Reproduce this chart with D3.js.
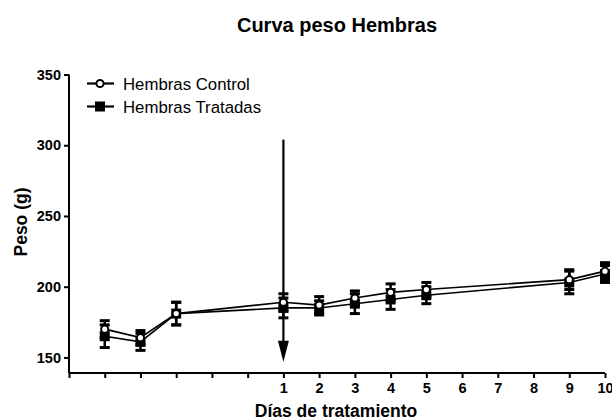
<!DOCTYPE html>
<html>
<head>
<meta charset="utf-8">
<script src="https://cdn.jsdelivr.net/npm/d3@7/dist/d3.min.js"></script>
<style>
  html, body { margin: 0; padding: 0; background: #fff; }
  svg { display: block; font-family: "Liberation Sans", Arial, sans-serif; }
</style>
</head>
<body>
<svg id="chart" width="612" height="419"></svg>
<script>
// Treatment days (negative = days before treatment starts)
const days = [-4, -3, -2, 1, 2, 3, 4, 5, 9, 10];
const controlMean = [170, 164, 181, 189, 187, 192, 196, 198, 205, 211];
const controlErr  = [6, 5, 8, 6, 6, 5, 6, 5, 7, 6];
const treatedMean = [165, 161, 181, 185, 185, 188, 191, 194, 203, 209];
const treatedErr  = [8, 6, 8, 7, 5, 7, 7, 6, 8, 6];
const xTicks = [-5, -4, -3, -2, -1, 0, 1, 2, 3, 4, 5, 6, 7, 8, 9, 10];
const yTicks = [150, 200, 250, 300, 350];
const seriesNames = ["Hembras Control", "Hembras Tratadas"];
// Treatment start marker: arrow on day 1 from this weight down to this weight
const arrowDay = 1, arrowFrom = 304, arrowTo = 147;

const svg = d3.select("#chart");
const x = d3.scaleLinear().domain([-5, 10]).range([69, 605]);
const y = d3.scaleLinear().domain([139, 350]).range([373, 74.5]);

// Axes
const xAxis = d3.axisBottom(x).tickValues(xTicks).tickSize(5).tickPadding(5)
  .tickFormat(d => d >= 1 ? d : "");
const yAxis = d3.axisLeft(y).tickValues(yTicks).tickSize(5).tickPadding(3);

const gx = svg.append("g").attr("transform", `translate(0,${y.range()[0]})`).call(xAxis);
const gy = svg.append("g").attr("transform", `translate(${x.range()[0]},0)`).call(yAxis);
[gx, gy].forEach(g => {
  g.select(".domain").attr("stroke", "#000").attr("stroke-width", 2);
  g.selectAll(".tick line").attr("stroke", "#000").attr("stroke-width", 2);
  g.selectAll(".tick text").attr("fill", "#000").style("font-size", "14.5px")
    .style("font-weight", "bold").style("font-family", "Liberation Sans, Arial, sans-serif");
});
gx.select(".domain").attr("d", `M${x.range()[0]},0H${x.range()[1]}`);
gy.select(".domain").attr("d", `M0,${y.range()[0]}V${y.range()[1]}`);

// Titles
svg.append("text").attr("x", 337).attr("y", 32).attr("text-anchor", "middle")
  .style("font-size", "20px").style("font-weight", "bold").text("Curva peso Hembras");
svg.append("text").attr("transform", "translate(27,222) rotate(-90)")
  .attr("text-anchor", "middle").style("font-size", "17.5px").style("font-weight", "bold")
  .text("Peso (g)");
svg.append("text").attr("x", 336).attr("y", 417).attr("text-anchor", "middle")
  .style("font-size", "17.5px").style("font-weight", "bold").text("Días de tratamiento");

// Treatment arrow
svg.append("line").attr("x1", x(arrowDay)).attr("x2", x(arrowDay))
  .attr("y1", y(arrowFrom)).attr("y2", y(arrowTo) - 18)
  .attr("stroke", "#000").attr("stroke-width", 2.2);
svg.append("path")
  .attr("d", `M${x(arrowDay) - 5.5},${y(arrowTo) - 21}L${x(arrowDay) + 5.5},${y(arrowTo) - 21}L${x(arrowDay)},${y(arrowTo)}Z`)
  .attr("fill", "#000");

const series = [
  { name: seriesNames[0], mean: controlMean, err: controlErr, marker: "circle" },
  { name: seriesNames[1], mean: treatedMean, err: treatedErr, marker: "square" }
];

const line = d3.line().x(d => x(d.day)).y(d => y(d.v));

// Error bars
series.forEach(s => {
  const pts = days.map((d, i) => ({ day: d, v: s.mean[i], e: s.err[i] }));
  const g = svg.append("g");
  g.selectAll("line.bar").data(pts).join("line")
    .attr("x1", d => x(d.day)).attr("x2", d => x(d.day))
    .attr("y1", d => y(d.v - d.e)).attr("y2", d => y(d.v + d.e))
    .attr("stroke", "#000").attr("stroke-width", 2.5);
  g.selectAll("line.capT").data(pts).join("line")
    .attr("x1", d => x(d.day) - 5).attr("x2", d => x(d.day) + 5)
    .attr("y1", d => y(d.v + d.e)).attr("y2", d => y(d.v + d.e))
    .attr("stroke", "#000").attr("stroke-width", 3);
  g.selectAll("line.capB").data(pts).join("line")
    .attr("x1", d => x(d.day) - 5).attr("x2", d => x(d.day) + 5)
    .attr("y1", d => y(d.v - d.e)).attr("y2", d => y(d.v - d.e))
    .attr("stroke", "#000").attr("stroke-width", 3);
});

// Lines and markers
series.forEach(s => {
  const pts = days.map((d, i) => ({ day: d, v: s.mean[i] }));
  svg.append("path").datum(pts).attr("d", line)
    .attr("fill", "none").attr("stroke", "#000").attr("stroke-width", 1.6);
});
const sq = series[1];
svg.append("g").selectAll("rect").data(days.map((d, i) => ({ day: d, v: sq.mean[i] }))).join("rect")
  .attr("x", d => x(d.day) - 5).attr("y", d => y(d.v) - 5)
  .attr("width", 10).attr("height", 10).attr("fill", "#000");
const ci = series[0];
svg.append("g").selectAll("circle").data(days.map((d, i) => ({ day: d, v: ci.mean[i] }))).join("circle")
  .attr("cx", d => x(d.day)).attr("cy", d => y(d.v)).attr("r", 3.6)
  .attr("fill", "#fff").attr("stroke", "#000").attr("stroke-width", 2);

// Legend
const leg = svg.append("g");
series.forEach((s, i) => {
  const ly = 83.5 + i * 23;
  leg.append("line").attr("x1", 87).attr("x2", 114).attr("y1", ly).attr("y2", ly)
    .attr("stroke", "#000").attr("stroke-width", 2.2);
  if (s.marker === "circle") {
    leg.append("circle").attr("cx", 100).attr("cy", ly).attr("r", 3.6)
      .attr("fill", "#fff").attr("stroke", "#000").attr("stroke-width", 2);
  } else {
    leg.append("rect").attr("x", 95).attr("y", ly - 5).attr("width", 10).attr("height", 10).attr("fill", "#000");
  }
  leg.append("text").attr("x", 123).attr("y", ly + 6).style("font-size", "16.8px").text(s.name);
});
</script>
</body>
</html>
